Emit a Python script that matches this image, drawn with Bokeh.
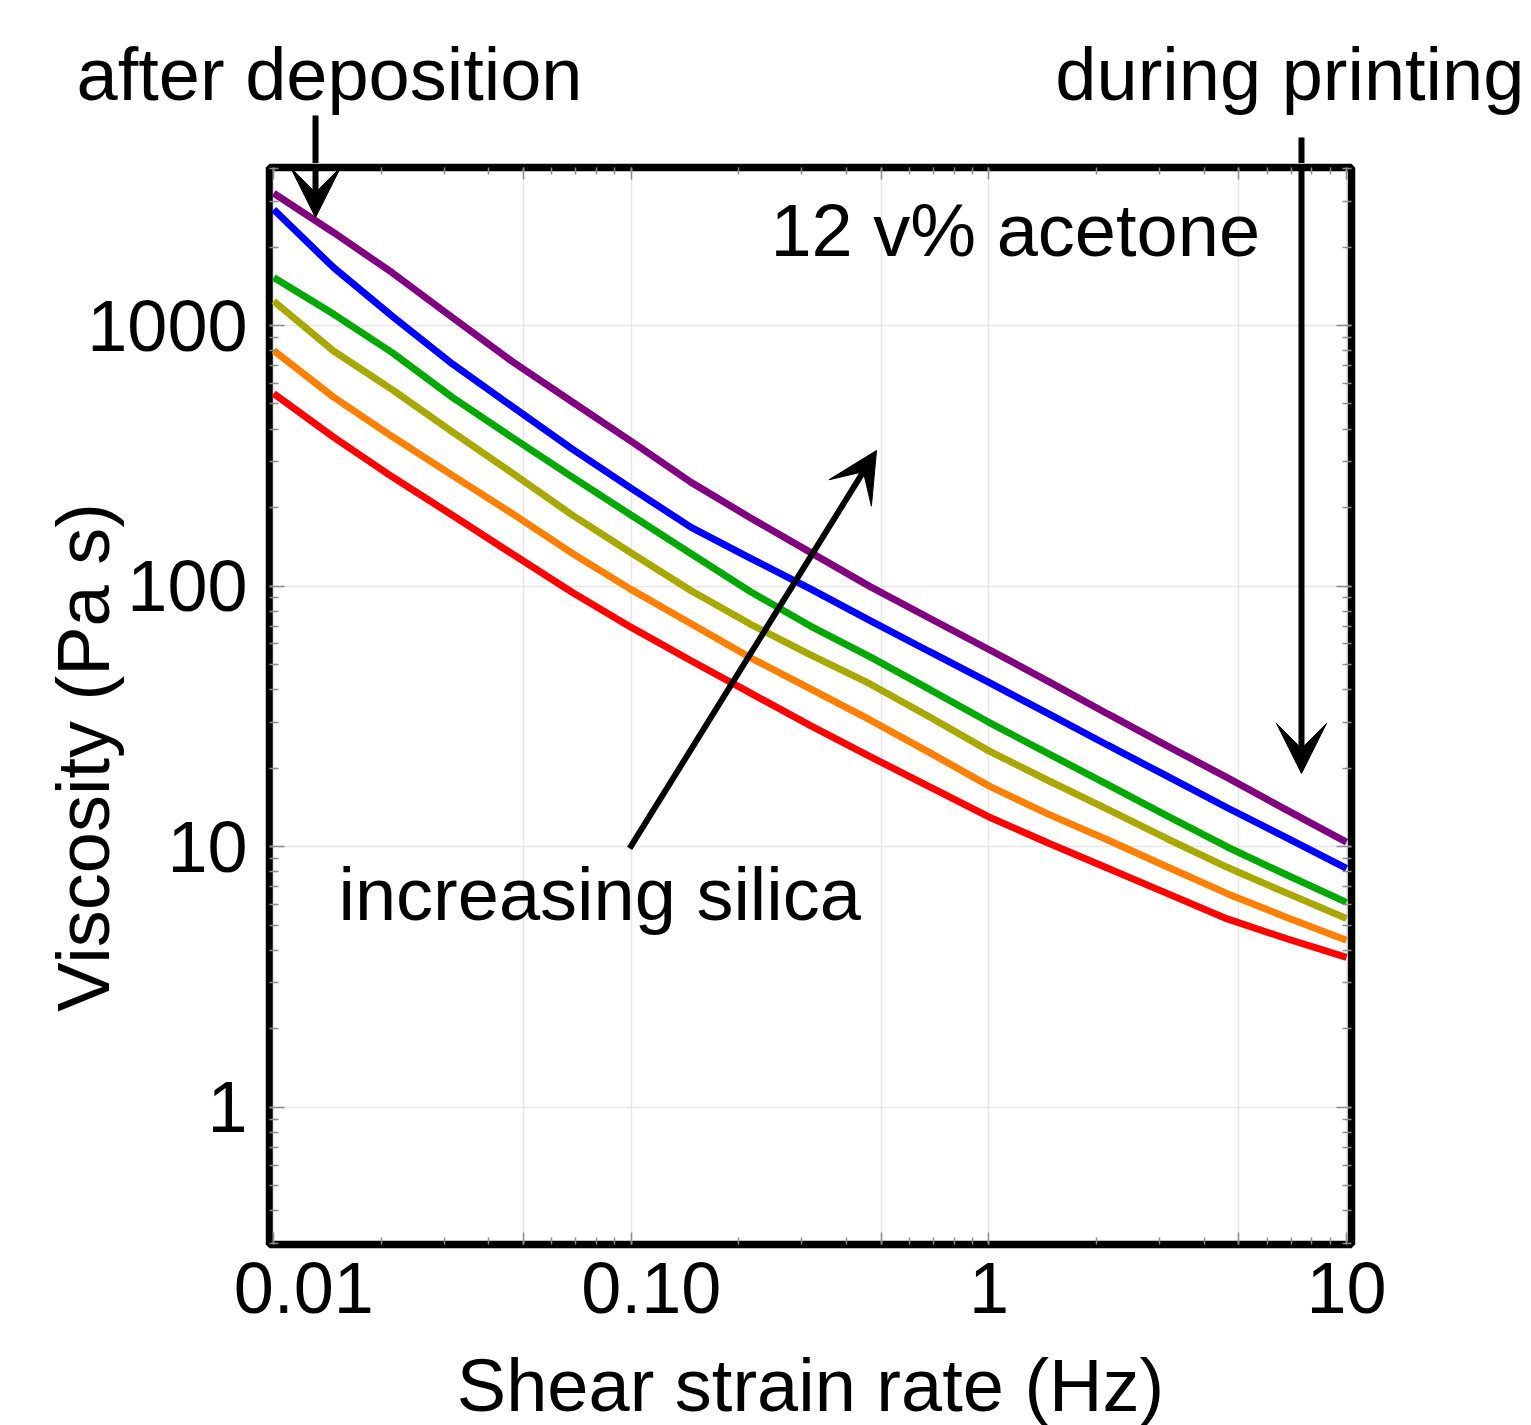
import math
from bokeh.plotting import figure
from bokeh.layouts import column
from bokeh.models import (FixedTicker, LogAxis, Label, Arrow, VeeHead, Range1d,
                          ColumnDataSource, Title)
from bokeh.embed import file_html
from bokeh.resources import INLINE

# ---------------- data ----------------
shear_rate = [0.01, 0.0147, 0.0215, 0.0316, 0.0464, 0.0681, 0.1, 0.147, 0.215,
              0.316, 0.464, 0.681, 1.0, 1.47, 2.15, 3.16, 4.64, 6.81, 10.0]

visc_purple = [3219, 2275, 1591, 1073, 728, 511, 359, 250, 183, 135, 99.7, 75.4,
               57.1, 43.0, 32.3, 24.3, 18.4, 13.8, 10.4]
visc_blue = [2787, 1669, 1083, 712, 489, 337, 237, 168, 128, 97.7, 73.9, 56.1,
             42.7, 32.3, 24.5, 18.6, 14.1, 10.8, 8.25]
visc_green = [1528, 1106, 785, 530, 372, 263, 187, 133, 95.3, 70.4, 53.6, 40.2,
              30.0, 22.7, 17.3, 13.1, 9.97, 7.78, 6.11]
visc_olive = [1240, 798, 566, 391, 272, 188, 134, 95.9, 71.5, 54.6, 42.2, 31.5,
              23.3, 17.9, 13.9, 10.7, 8.33, 6.63, 5.30]
visc_orange = [802, 531, 374, 266, 190, 134, 96.9, 71.7, 53.2, 40.4, 30.7, 23.0,
               17.1, 13.3, 10.6, 8.35, 6.60, 5.35, 4.37]
visc_red = [548, 373, 262, 187, 133, 94.9, 69.4, 51.7, 38.9, 29.2, 22.2, 17.0,
            13.0, 10.3, 8.26, 6.60, 5.28, 4.43, 3.76]

series_names = ["purple", "blue", "green", "olive", "orange", "red"]
series_colors = ["#800080", "#0000ff", "#00a800", "#a8a800", "#ff8000", "#ff0000"]

x_ticks = [0.01, 0.05, 0.1, 0.5, 1, 5, 10]
NB = "\u00a0"
x_tick_labels = [NB * 3 + "0.01", "", NB * 2 + "0.10", "", "1", "", "10"]
x_minor = [0.02, 0.03, 0.04, 0.06, 0.07, 0.08, 0.09,
           0.2, 0.3, 0.4, 0.6, 0.7, 0.8, 0.9,
           2, 3, 4, 6, 7, 8, 9]
y_ticks = [1, 10, 100, 1000]
y_tick_labels = ["1", "10", "100", "1000"]
y_minor = [0.3, 0.4, 0.5, 0.6, 0.7, 0.8, 0.9,
           2, 3, 4, 5, 6, 7, 8, 9,
           20, 30, 40, 50, 60, 70, 80, 90,
           200, 300, 400, 500, 600, 700, 800, 900,
           2000, 3000, 4000]

x_title = "Shear strain rate (Hz)"
y_title = "Viscosity (Pa s)"

# texts above the plot box (left one, right one)
top_text_left = "after deposition"
top_text_right = "during printing"
# texts inside the plot box (text, x, y) in data units; left aligned
inner_texts = [("12 v% acetone", 0.2450, 2314),
               ("increasing silica", 0.01518, 6.555)]
# arrows (x_start, y_start, x_end, y_end) in data units
annot_arrows = [(0.01309, 6683, 0.01309, 2597),
                (7.484, 5264, 7.484, 19.09),
                (0.0989, 9.84, 0.4850, 331.4)]

FONT = "Liberation Sans"

# ---------------- geometry ----------------
X0, X1 = 0.009733, 10.327        # main x range
Y0, Y1 = 0.2972, 4040            # main y range
FW, FH = 1082, 1077              # main frame size
LEFT, RIGHT, TOPGAP, BOTTOM = 269, 178, 4, 181
TOP_TITLE_H, TOP_FRAME_H = 115, 48   # strip above the main figure

ppd_y = FH / math.log10(Y1 / Y0)
ty0 = 10 ** (math.log10(Y1) + TOPGAP / ppd_y)
ty1 = 10 ** (math.log10(Y1) + (TOPGAP + TOP_FRAME_H) / ppd_y)


def add_arrows(fig):
    for xs, ys, xe, ye in annot_arrows:
        fig.add_layout(Arrow(x_start=xs, y_start=ys, x_end=xe, y_end=ye,
                             line_width=6, line_color="black",
                             end=VeeHead(size=50, fill_color="black",
                                         line_color="black", line_width=1)))


# ---------------- top strip ----------------
top_fig = figure(x_axis_type="log", y_axis_type="log",
                 x_range=Range1d(X0, X1), y_range=Range1d(ty0, ty1),
                 frame_width=FW, frame_height=TOP_FRAME_H,
                 min_border_left=LEFT, min_border_right=RIGHT,
                 min_border_top=TOP_TITLE_H, min_border_bottom=0,
                 x_axis_location=None, y_axis_location=None,
                 output_backend="svg", toolbar_location=None,
                 background_fill_color="white", border_fill_color="white")
top_fig.outline_line_color = None
top_fig.grid.visible = False
top_fig.add_layout(Title(text=top_text_left + NB * 23 + top_text_right,
                         align="left", offset=-193, standoff=0,
                         vertical_align="bottom",
                         text_font=FONT, text_font_size="74px",
                         text_font_style="normal", text_color="black"),
                   "above")
add_arrows(top_fig)

# ---------------- main figure ----------------
p = figure(x_axis_type="log", y_axis_type="log",
           x_range=Range1d(X0, X1), y_range=Range1d(Y0, Y1),
           frame_width=FW, frame_height=FH,
           min_border_left=LEFT, min_border_right=RIGHT,
           min_border_top=TOPGAP, min_border_bottom=BOTTOM,
           output_backend="svg", toolbar_location=None,
           background_fill_color="white", border_fill_color="white")

p.outline_line_color = "black"
p.outline_line_width = 7.5
p.outline_line_alpha = 1.0

src = ColumnDataSource(dict(x=shear_rate, purple=visc_purple, blue=visc_blue,
                            green=visc_green, olive=visc_olive,
                            orange=visc_orange, red=visc_red))
for name, col in zip(series_names, series_colors):
    p.line("x", name, source=src, line_color=col, line_width=7)

xt = FixedTicker(ticks=x_ticks, minor_ticks=x_minor)
yt = FixedTicker(ticks=y_ticks, minor_ticks=y_minor)

TICK_COL = "#8c8c8c"


def style_axis(ax, major_in, minor_in):
    ax.axis_line_color = None
    ax.major_tick_in = major_in
    ax.major_tick_out = 0
    ax.minor_tick_in = minor_in
    ax.minor_tick_out = 0
    ax.major_tick_line_color = TICK_COL
    ax.minor_tick_line_color = TICK_COL
    ax.major_tick_line_width = 1.5
    ax.minor_tick_line_width = 1.5
    ax.major_label_text_font = FONT
    ax.major_label_text_color = "black"
    ax.axis_label_text_font = FONT
    ax.axis_label_text_font_style = "normal"
    ax.axis_label_text_color = "black"


xa = p.xaxis[0]
xa.ticker = xt
style_axis(xa, 12, 7)
xa.major_label_overrides = dict(zip(x_ticks, x_tick_labels))
xa.major_label_text_font_size = "72px"
xa.major_label_standoff = 3
xa.axis_label = x_title
xa.axis_label_text_font_size = "74px"
xa.axis_label_standoff = 13

ya = p.yaxis[0]
ya.ticker = yt
style_axis(ya, 15, 9)
ya.major_label_overrides = dict(zip(y_ticks, y_tick_labels))
ya.major_label_text_font_size = "72px"
ya.major_label_standoff = 22
ya.axis_label = y_title + NB * 5
ya.axis_label_text_font_size = "74px"
ya.axis_label_standoff = -41

top_axis = LogAxis(ticker=xt, major_label_overrides={t: "" for t in x_ticks},
                   major_label_text_font_size="1px", major_label_standoff=0)
style_axis(top_axis, 12, 7)
p.add_layout(top_axis, "above")
right_axis = LogAxis(ticker=yt, major_label_overrides={t: "" for t in y_ticks},
                     major_label_text_font_size="1px", major_label_standoff=0)
style_axis(right_axis, 15, 9)
p.add_layout(right_axis, "right")

p.xgrid.ticker = xt
p.ygrid.ticker = yt
p.xgrid.grid_line_color = "#e6e6e6"
p.ygrid.grid_line_color = "#e6e6e6"
p.xgrid.grid_line_width = 1.5
p.ygrid.grid_line_width = 1.5

for txt, tx, ty in inner_texts:
    p.add_layout(Label(x=tx, y=ty, text=txt, text_font=FONT,
                       text_font_size="74px", text_color="black",
                       text_align="left", text_baseline="alphabetic"))
add_arrows(p)

layout = column(top_fig, p, spacing=0)
open("out.html", "w").write(file_html(layout, INLINE))
